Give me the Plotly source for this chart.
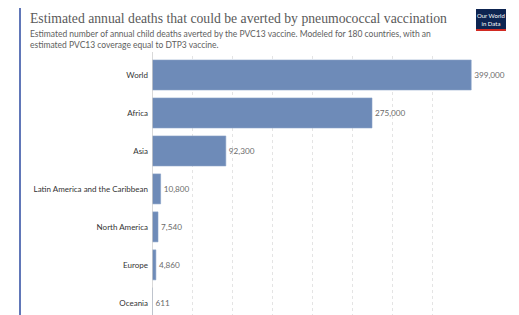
import plotly.graph_objects as go

regions = ["World", "Africa", "Asia", "Latin America and the Caribbean",
           "North America", "Europe", "Oceania"]
deaths = [399000, 275000, 92300, 10800, 7540, 4860, 611]
labels = ["399,000", "275,000", "92,300", "10,800", "7,540", "4,860", "611"]

OFF = 8  # page body margin
W, H = 519 - OFF, 315 - OFF
L, R, T, B = 152 - OFF, 47, 56 - OFF, 0
pw, ph = W - L - R, H - T - B

def px(x):  # x in reference window pixels
    return (x - OFF - L) / pw

def py(y):  # y in reference window pixels
    return (H - B - (y - OFF)) / ph

fig = go.Figure(go.Bar(
    y=regions, x=deaths, orientation="h",
    marker=dict(color="#6e8bb8", line=dict(color="#8aa2c8", width=0.6)),
    text=labels, textposition="outside", cliponaxis=False,
    textfont=dict(family="Lato", size=8.2, color="#6b6b6b"),
    hoverinfo="skip",
))

fig.update_layout(
    width=W, height=H,
    margin=dict(l=L, r=R, t=T, b=B, pad=0),
    paper_bgcolor="white", plot_bgcolor="white",
    showlegend=False, bargap=0.21,
    font=dict(family="Lato", size=8, color="#333"),
    xaxis=dict(range=[0, 400000], dtick=50000, showticklabels=False,
               showgrid=True, gridcolor="#e4e4e4", griddash="dot", gridwidth=1,
               zeroline=False, showline=False, fixedrange=True),
    yaxis=dict(range=[6.32, -0.5], showgrid=False, zeroline=False,
               ticks="", ticklabelstandoff=3,
               tickfont=dict(family="Lato", size=8, color="#333"),
               showline=False, fixedrange=True),
)

shapes = [
    # axis line
    dict(type="line", xref="x", yref="paper", x0=0, x1=0, y0=0, y1=py(52),
         line=dict(color="#cccccc", width=1.5)),
    # frame borders
    dict(type="line", xref="paper", yref="paper", x0=px(20), x1=px(519),
         y0=py(3), y1=py(3), line=dict(color="#2d4aa0", width=1.5)),
    dict(type="line", xref="paper", yref="paper", x0=px(20), x1=px(20),
         y0=py(3), y1=py(315), line=dict(color="#2d4aa0", width=1.5)),
    # logo
    dict(type="rect", xref="paper", yref="paper", x0=px(476), x1=px(506),
         y0=py(30), y1=py(9), fillcolor="#0d2451", line=dict(width=0)),
    dict(type="rect", xref="paper", yref="paper", x0=px(476), x1=px(506),
         y0=py(31), y1=py(29), fillcolor="#d12a22", line=dict(width=0)),
]
fig.update_layout(shapes=shapes)

annotations = [
    dict(text="Estimated annual deaths that could be averted by pneumococcal vaccination",
         xref="paper", yref="paper", x=px(28), y=py(9), xanchor="left", yanchor="top",
         showarrow=False, font=dict(family="Liberation Serif", size=13.7, color="#5a5a5a")),
    dict(text="Estimated number of annual child deaths averted by the PVC13 vaccine. Modeled for 180 countries, with an<br>estimated PVC13 coverage equal to DTP3 vaccine.",
         xref="paper", yref="paper", x=px(28), y=py(27), xanchor="left", yanchor="top",
         align="left", showarrow=False,
         font=dict(family="Lato", size=8.5, color="#5e5e5e")),
    dict(text="Our World<br>in Data", xref="paper", yref="paper", x=px(491), y=py(19.5),
         xanchor="center", yanchor="middle", showarrow=False,
         font=dict(family="Lato", size=6, color="white")),
]
fig.update_layout(annotations=annotations)

fig.write_html("out.html")
